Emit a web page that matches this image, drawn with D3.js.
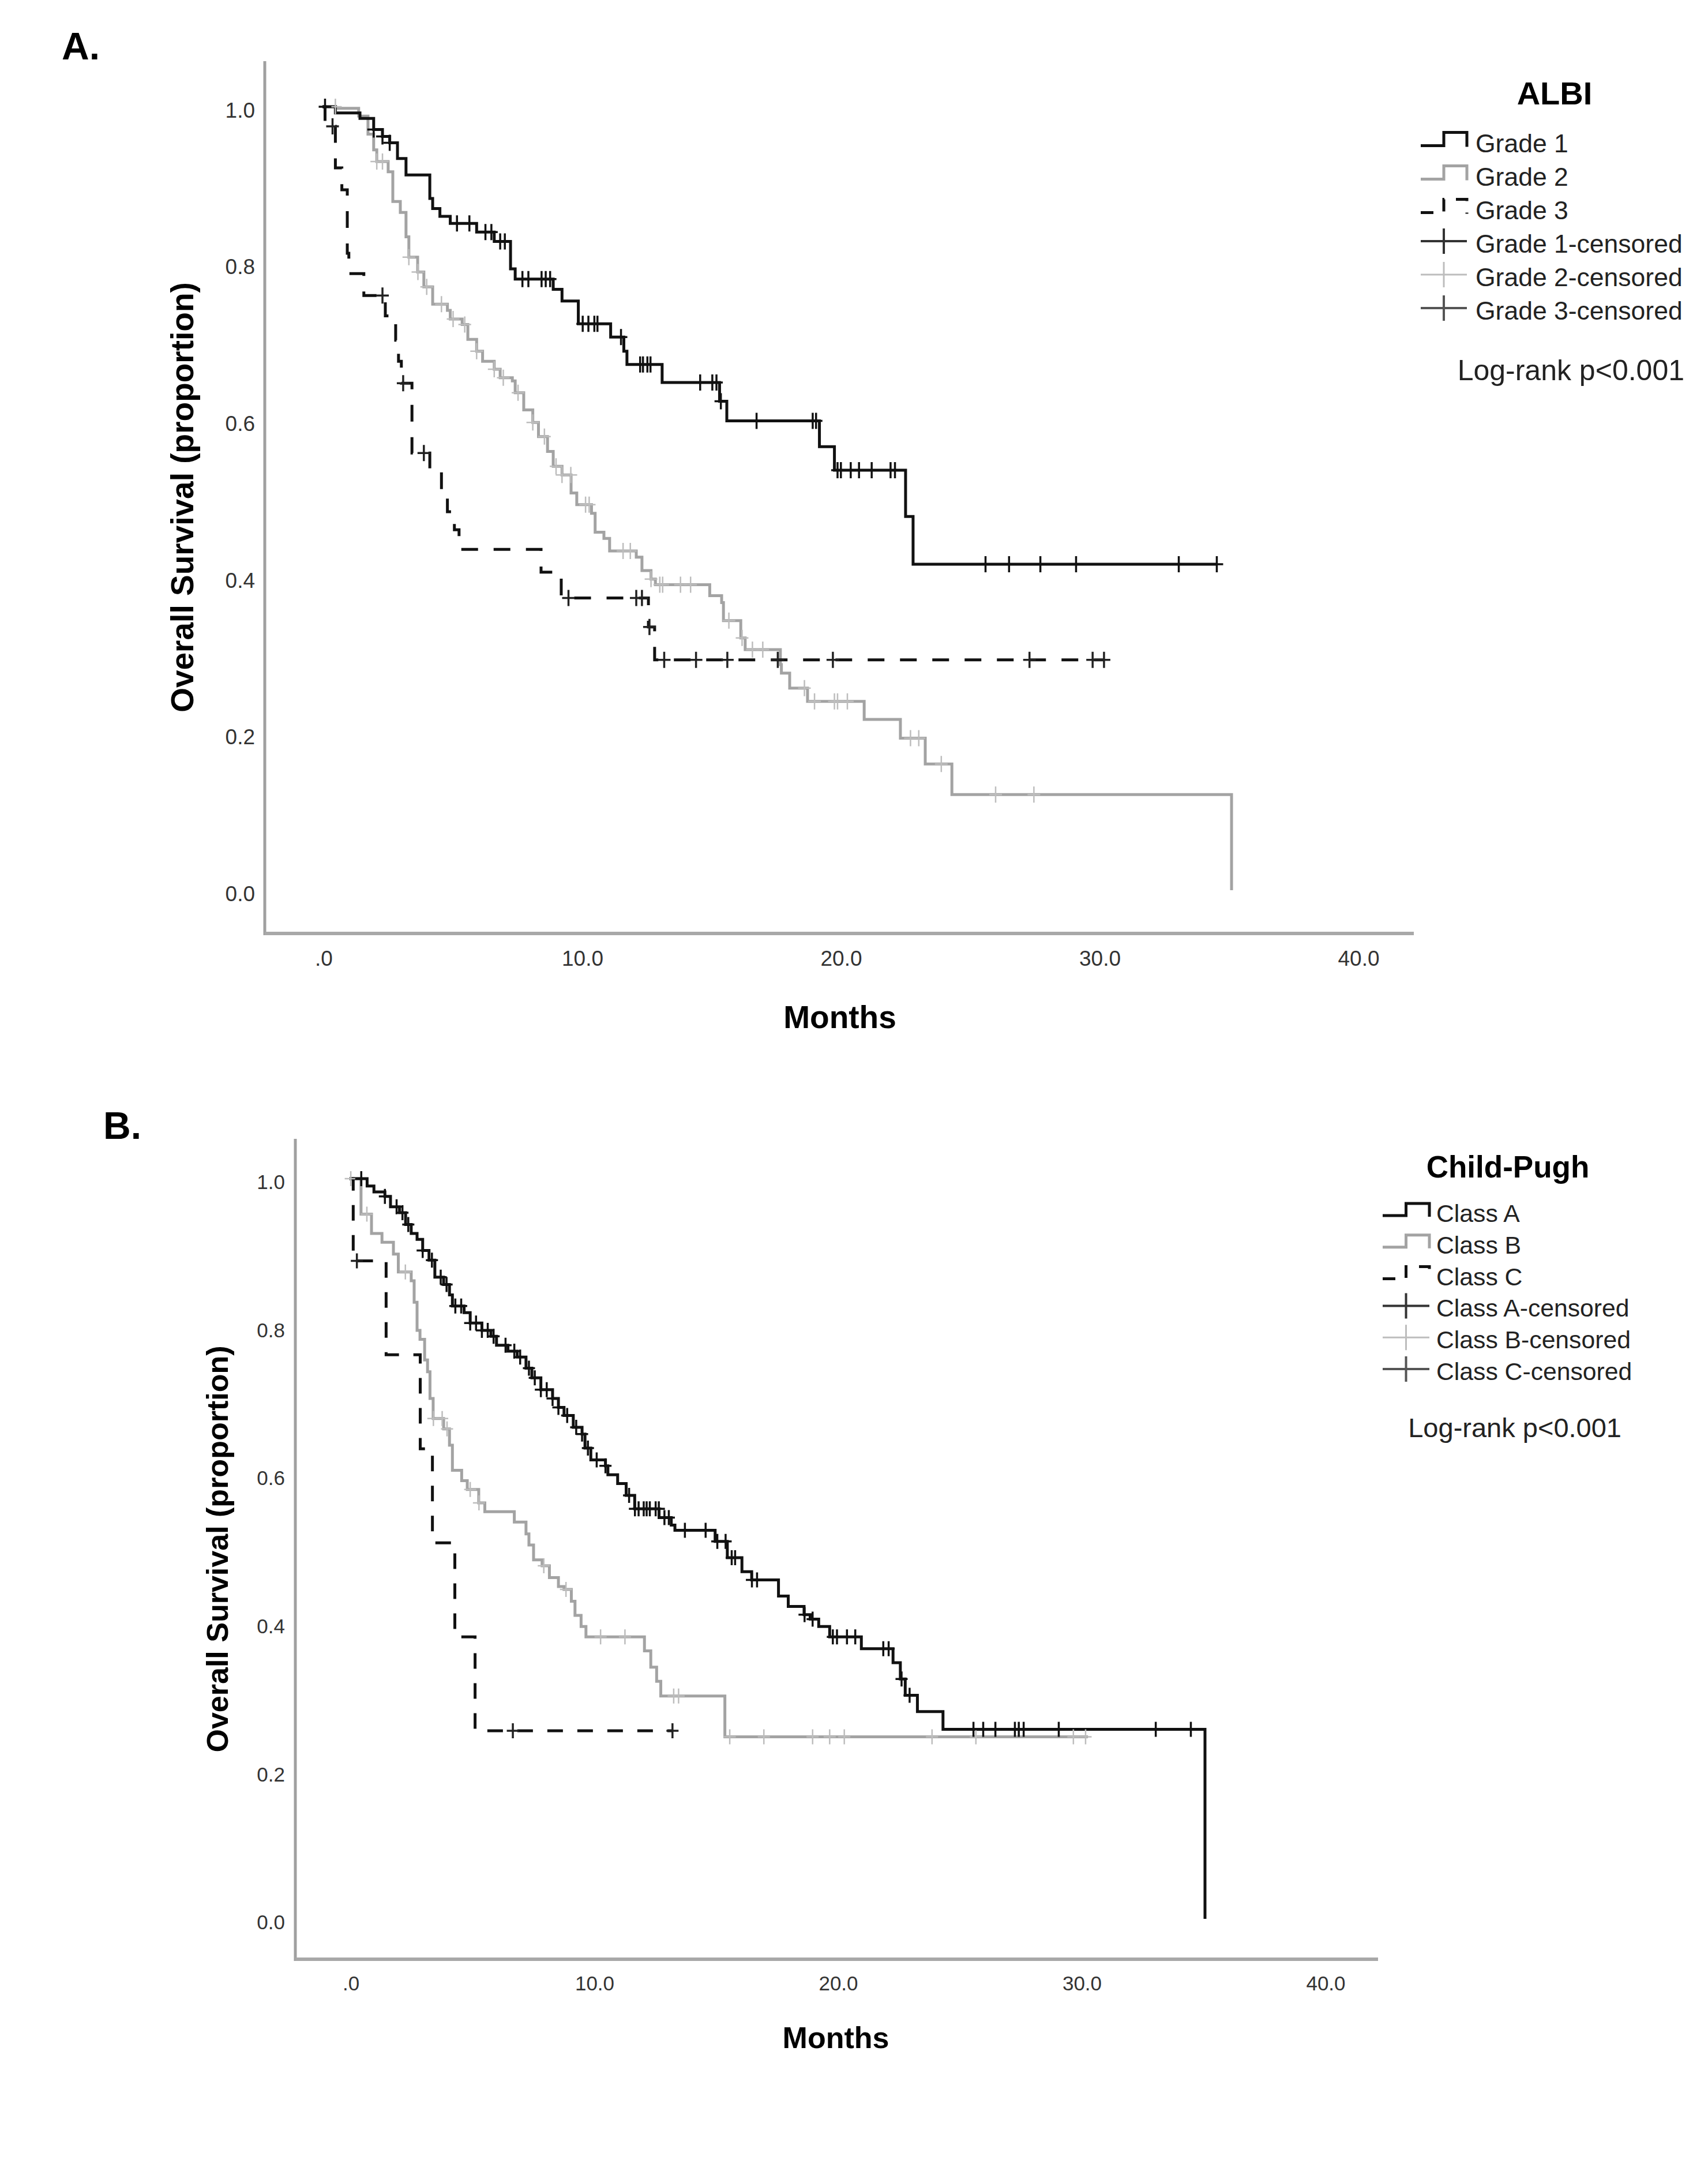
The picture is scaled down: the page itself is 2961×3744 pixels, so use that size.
<!DOCTYPE html>
<html>
<head>
<meta charset="utf-8">
<script src="https://cdn.jsdelivr.net/npm/d3@7"></script>
<style>
  body { margin: 0; background: #fff; }
  svg { display: block; }
</style>
</head>
<body>
<div id="chart"></div>
<script>
// Kaplan-Meier curves, two panels (ALBI grade / Child-Pugh class)

///////////////////////////////////////////////////////////// ! Data
// step points are [months, survival after the step]; last point = end of follow-up
const xTicks = [0, 10, 20, 30, 40];
const yTicks = [0, 0.2, 0.4, 0.6, 0.8, 1.0];

const albiGrade1 = [[0,1],[0.5,0.992],[1.45,0.985],[1.98,0.971],[2.32,0.962],[2.6,0.954],[2.9,0.934],[3.23,0.913],[4.15,0.883],[4.26,0.87],[4.54,0.86],[4.94,0.851],[5.96,0.84],[6.64,0.828],[7.27,0.793],[7.45,0.78],[8.92,0.767],[9.26,0.752],[9.89,0.723],[11.14,0.706],[11.65,0.688],[11.77,0.671],[13.13,0.648],[15.35,0.624],[15.63,0.599],[19.21,0.566],[19.79,0.536],[22.54,0.477],[22.83,0.416],[34.57,0.416]];
const albiGrade1Censored = [0.1,1.98,2.32,2.6,5.2,5.68,6.3,6.53,6.87,7.05,7.73,7.96,8.47,8.63,8.8,10.06,10.28,10.51,10.63,11.54,12.28,12.39,12.56,12.68,14.6,15.07,15.23,15.4,16.78,18.95,19.08,19.91,20.04,20.42,20.74,21.23,21.96,22.13,25.63,26.54,27.75,29.13,33.1,34.57];

const albiGrade2 = [[0,1],[0.51,0.998],[1.4,0.988],[1.76,0.965],[1.98,0.945],[2.1,0.93],[2.54,0.917],[2.72,0.879],[3.01,0.865],[3.23,0.834],[3.34,0.808],[3.68,0.789],[3.92,0.77],[4.26,0.748],[4.83,0.74],[4.94,0.729],[5.4,0.722],[5.62,0.703],[5.96,0.688],[6.19,0.675],[6.64,0.665],[6.87,0.654],[7.34,0.65],[7.45,0.635],[7.78,0.613],[8.13,0.597],[8.35,0.579],[8.7,0.56],[8.92,0.541],[9.26,0.53],[9.61,0.507],[9.83,0.492],[10.4,0.481],[10.54,0.457],[10.88,0.449],[11.1,0.433],[12.13,0.425],[12.35,0.408],[12.7,0.397],[12.87,0.39],[14.97,0.376],[15.43,0.367],[15.5,0.344],[16.17,0.322],[16.34,0.307],[17.7,0.288],[17.74,0.277],[18.06,0.258],[18.75,0.241],[20.94,0.218],[22.34,0.194],[23.3,0.161],[24.33,0.122],[35.14,0]];
const albiGrade2Censored = [0.5,2.1,2.32,3.34,3.69,4.03,4.6,5.05,5.5,5.96,6.64,6.99,7.56,8.13,8.58,9.03,9.26,9.6,10.17,10.31,11.62,11.9,12.7,13.04,13.15,13.84,14.23,15.71,16.22,16.62,17.02,18.63,19.02,19.79,19.91,20.29,22.73,23.05,23.92,26.02,27.5];

const albiGrade3 = [[0,1],[0.1,0.975],[0.5,0.922],[0.75,0.894],[0.96,0.813],[1.02,0.787],[1.6,0.759],[2.43,0.733],[2.83,0.702],[2.94,0.675],[3.05,0.647],[3.46,0.558],[4.15,0.535],[4.6,0.51],[4.83,0.483],[5.1,0.46],[5.28,0.435],[8.45,0.406],[9.23,0.373],[12.6,0.336],[12.84,0.294],[30.21,0.294]];
const albiGrade3Censored = [0.39,2.32,3.12,3.92,9.51,12.13,12.35,12.64,13.21,14.44,15.65,17.6,19.73,27.33,29.77,30.21];

const cpClassA = [[0,1],[0.72,0.99],[1.0,0.982],[1.45,0.976],[1.68,0.962],[2.05,0.954],[2.3,0.938],[2.53,0.926],[2.77,0.918],[3.0,0.903],[3.26,0.89],[3.5,0.867],[3.86,0.857],[4.1,0.843],[4.22,0.828],[4.7,0.819],[4.95,0.805],[5.43,0.795],[5.8,0.787],[6.03,0.775],[6.5,0.767],[6.88,0.759],[7.24,0.744],[7.48,0.731],[7.85,0.715],[8.33,0.703],[8.57,0.691],[8.8,0.68],[9.18,0.664],[9.54,0.655],[9.66,0.636],[9.9,0.62],[10.5,0.612],[10.6,0.6],[11.0,0.588],[11.35,0.572],[11.7,0.554],[12.7,0.542],[13.2,0.532],[13.35,0.525],[15.0,0.51],[15.5,0.488],[16.1,0.469],[16.5,0.458],[17.6,0.436],[18.0,0.422],[18.65,0.411],[18.9,0.405],[19.25,0.395],[19.7,0.381],[21.0,0.365],[22.3,0.346],[22.6,0.324],[22.8,0.302],[23.3,0.28],[24.35,0.256],[35.1,0]];
const cpClassACensored = [0.48,1.45,1.93,2.17,2.41,3.0,3.38,3.74,3.98,4.34,4.58,4.95,5.19,5.43,5.67,5.91,6.4,6.76,7.0,7.36,7.6,7.85,8.09,8.33,8.57,8.93,9.3,9.54,9.78,10.14,10.5,11.47,11.71,11.86,12.07,12.19,12.32,12.56,12.69,12.92,13.1,13.76,14.61,15.09,15.43,15.68,15.82,16.51,16.72,18.67,19.0,19.83,20.0,20.41,20.75,21.9,22.12,22.65,22.98,25.6,26.0,26.5,27.3,27.46,27.66,29.1,33.08,34.52];

const cpClassB = [[0,1],[0.47,0.952],[0.9,0.926],[1.33,0.914],[1.8,0.898],[2.0,0.874],[2.53,0.862],[2.65,0.833],[2.77,0.795],[2.89,0.783],[3.08,0.755],[3.2,0.739],[3.3,0.703],[3.43,0.676],[3.86,0.662],[4.1,0.64],[4.22,0.606],[4.6,0.592],[4.83,0.58],[5.3,0.562],[5.55,0.55],[6.76,0.536],[7.24,0.52],[7.36,0.505],[7.55,0.485],[7.9,0.477],[8.2,0.461],[8.57,0.449],[8.8,0.445],[9.1,0.429],[9.25,0.41],[9.5,0.395],[9.7,0.381],[12.1,0.362],[12.36,0.34],[12.6,0.321],[12.77,0.301],[15.4,0.246],[30.3,0.246]];
const cpClassBCensored = [0.05,0.71,2.29,3.44,3.8,4.0,4.95,5.31,7.97,8.88,10.3,11.3,13.3,13.5,15.6,17.0,19.0,19.7,20.3,23.9,25.7,29.7,30.2];

const cpClassC = [[0,1],[0.15,0.889],[1.5,0.762],[2.9,0.635],[3.4,0.508],[4.32,0.381],[5.15,0.254],[13.25,0.254]];
const cpClassCCensored = [0.3,6.7,13.25];

const albiLabels = ["Grade 1", "Grade 2", "Grade 3", "Grade 1-censored", "Grade 2-censored", "Grade 3-censored"];
const cpLabels = ["Class A", "Class B", "Class C", "Class A-censored", "Class B-censored", "Class C-censored"];

///////////////////////////////////////////////////////////// ! Setup
const FONT = "'Liberation Sans', Arial, Helvetica, sans-serif";
const BLACK = "#111";
const GRAY = "#a3a3a3";
const LIGHT = "#bdbdbd";

const svg = d3
  .select("#chart")
  .append("svg")
  .attr("width", 2961)
  .attr("height", 3744)
  .style("background", "#fff");

// panel geometry (pixels of the figure)
const panels = [
  {
    letter: "A.", letterX: 107, letterY: 103, letterSize: 66,
    xRange: [559, 2353], yRange: [1543, 185],
    axisX: 459, axisTop: 106, axisY: 1618, axisRight: 2451,
    tickSize: 37, xLabelBaseline: 1674, yLabelRight: 442, yLabelShift: 5,
    titleSize: 55, monthsX: 1456, monthsY: 1782, yTitleX: 335, yTitleY: 862,
    dash: "29,27", lineW: 5, markW: 11, markH: 14,
    legend: {
      title: "ALBI", titleX: 2695, titleY: 181, titleSize: 56,
      symX: 2463, symW: 80, textX: 2558, base: 264, step: 58, size: 44.5,
      low: 11.5, high: 34.5, crossC: 20, crossH: 22,
      logX: 2920, logY: 659, logSize: 50, labels: albiLabels,
    },
    series: [
      { steps: albiGrade2, censored: albiGrade2Censored, color: GRAY, mark: LIGHT, markWidth: 2.5 },
      { steps: albiGrade3, censored: albiGrade3Censored, color: BLACK, mark: "#222", dashed: true, markWidth: 3.5 },
      { steps: albiGrade1, censored: albiGrade1Censored, color: BLACK, mark: BLACK, markWidth: 3.5 },
    ],
  },
  {
    letter: "B.", letterX: 179, letterY: 1974, letterSize: 66,
    xRange: [606, 2296], yRange: [3326, 2043],
    axisX: 512, axisTop: 1974, axisY: 3396, axisRight: 2389,
    tickSize: 35, xLabelBaseline: 3450, yLabelRight: 494, yLabelShift: 5,
    titleSize: 52, monthsX: 1449, monthsY: 3550, yTitleX: 395, yTitleY: 2685,
    dash: "27,25", lineW: 5, markW: 10.5, markH: 13,
    legend: {
      title: "Child-Pugh", titleX: 2614, titleY: 2041, titleSize: 53,
      symX: 2397, symW: 81, textX: 2490, base: 2118, step: 54.8, size: 42.7,
      low: 11, high: 32, crossC: 19, crossH: 22,
      logX: 2811, logY: 2491, logSize: 47, labels: cpLabels,
    },
    series: [
      { steps: cpClassB, censored: cpClassBCensored, color: GRAY, mark: LIGHT, markWidth: 2.5 },
      { steps: cpClassC, censored: cpClassCCensored, color: BLACK, mark: "#222", dashed: true, markWidth: 3.5 },
      { steps: cpClassA, censored: cpClassACensored, color: BLACK, mark: BLACK, markWidth: 3.5 },
    ],
  },
];

///////////////////////////////////////////////////////////// ! Helpers
function survivalAt(steps, t) {
  let s = steps[0][1];
  for (const [ti, si] of steps) {
    if (ti <= t) s = si;
    else break;
  }
  return s;
}

const fmtMonth = (d) => (d === 0 ? ".0" : d.toFixed(1));

///////////////////////////////////////////////////////////// ! Draw
function drawPanel(p) {
  const x = d3.scaleLinear().domain([0, 40]).range(p.xRange);
  const y = d3.scaleLinear().domain([0, 1]).range(p.yRange);
  const g = svg.append("g");

  // panel letter
  g.append("text")
    .attr("x", p.letterX)
    .attr("y", p.letterY)
    .attr("font-family", FONT)
    .attr("font-weight", "bold")
    .attr("font-size", p.letterSize)
    .text(p.letter);

  // axis lines (SPSS style, no tick marks)
  g.append("line")
    .attr("x1", p.axisX).attr("x2", p.axisX)
    .attr("y1", p.axisTop).attr("y2", p.axisY + 3)
    .attr("stroke", "#a0a0a0").attr("stroke-width", 5);
  g.append("line")
    .attr("x1", p.axisX).attr("x2", p.axisRight)
    .attr("y1", p.axisY).attr("y2", p.axisY)
    .attr("stroke", "#a8a8a8").attr("stroke-width", 6);

  // x tick labels
  g.append("g")
    .attr("transform", `translate(2,${p.xLabelBaseline})`)
    .call(d3.axisBottom(x).tickValues(xTicks).tickSize(0).tickPadding(0).tickFormat(fmtMonth))
    .call((a) => a.select(".domain").remove())
    .attr("font-family", FONT)
    .attr("font-size", p.tickSize)
    .attr("color", "#333")
    .selectAll("text")
    .attr("y", 0)
    .attr("dy", 0);

  // y tick labels
  g.append("g")
    .attr("transform", `translate(${p.yLabelRight},${p.yLabelShift})`)
    .call(d3.axisLeft(y).tickValues(yTicks).tickSize(0).tickPadding(0).tickFormat((d) => d.toFixed(1)))
    .call((a) => a.select(".domain").remove())
    .attr("font-family", FONT)
    .attr("font-size", p.tickSize)
    .attr("color", "#333")
    .selectAll("text")
    .attr("x", 0)
    .attr("dy", "0.36em");

  // axis titles
  g.append("text")
    .attr("x", p.monthsX)
    .attr("y", p.monthsY)
    .attr("text-anchor", "middle")
    .attr("font-family", FONT)
    .attr("font-weight", "bold")
    .attr("font-size", p.titleSize)
    .text("Months");

  g.append("text")
    .attr("transform", `translate(${p.yTitleX},${p.yTitleY}) rotate(-90)`)
    .attr("text-anchor", "middle")
    .attr("font-family", FONT)
    .attr("font-weight", "bold")
    .attr("font-size", p.titleSize)
    .text("Overall Survival (proportion)");

  // survival curves
  const line = d3
    .line()
    .x((d) => x(d[0]))
    .y((d) => y(d[1]))
    .curve(d3.curveStepAfter);

  p.series.forEach((s) => {
    g.append("path")
      .datum(s.steps)
      .attr("d", line)
      .attr("fill", "none")
      .attr("stroke", s.color)
      .attr("stroke-width", p.lineW)
      .attr("stroke-dasharray", s.dashed ? p.dash : null);
  });

  // censoring marks
  p.series.forEach((s) => {
    g.append("g")
      .selectAll("path")
      .data(s.censored)
      .join("path")
      .attr("d", (t) => {
        const cx = x(t);
        const cy = y(survivalAt(s.steps, t));
        return `M${cx - p.markW},${cy}H${cx + p.markW}M${cx},${cy - p.markH}V${cy + p.markH}`;
      })
      .attr("fill", "none")
      .attr("stroke", s.mark)
      .attr("stroke-width", s.markWidth);
  });

  // legend
  const L = p.legend;
  g.append("text")
    .attr("x", L.titleX)
    .attr("y", L.titleY)
    .attr("text-anchor", "middle")
    .attr("font-family", FONT)
    .attr("font-weight", "bold")
    .attr("font-size", L.titleSize)
    .text(L.title);

  const symStyles = [
    { color: BLACK, type: "step" },
    { color: GRAY, type: "step" },
    { color: BLACK, type: "step", dashed: true },
    { color: "#333", type: "cross", w: 4 },
    { color: LIGHT, type: "cross", w: 3 },
    { color: "#555", type: "cross", w: 4 },
  ];

  L.labels.forEach((label, i) => {
    const b = L.base + i * L.step;
    const st = symStyles[i];
    const x0 = L.symX;
    const x1 = L.symX + L.symW;
    const xm = L.symX + L.symW / 2;
    if (st.type === "step") {
      g.append("path")
        .attr("d", `M${x0},${b - L.low}H${xm}V${b - L.high}H${x1}V${b - L.low + 2}`)
        .attr("fill", "none")
        .attr("stroke", st.color)
        .attr("stroke-width", 5)
        .attr("stroke-dasharray", st.dashed ? "22,20" : null);
    } else {
      const cy = b - L.crossC;
      g.append("path")
        .attr("d", `M${x0},${cy}H${x1}M${xm},${cy - L.crossH}V${cy + L.crossH}`)
        .attr("fill", "none")
        .attr("stroke", st.color)
        .attr("stroke-width", st.w);
    }
    g.append("text")
      .attr("x", L.textX)
      .attr("y", b)
      .attr("font-family", FONT)
      .attr("font-size", L.size)
      .attr("fill", "#222")
      .text(label);
  });

  g.append("text")
    .attr("x", L.logX)
    .attr("y", L.logY)
    .attr("text-anchor", "end")
    .attr("font-family", FONT)
    .attr("font-size", L.logSize)
    .attr("fill", "#222")
    .text("Log-rank p<0.001");
}

panels.forEach(drawPanel);
</script>
</body>
</html>
